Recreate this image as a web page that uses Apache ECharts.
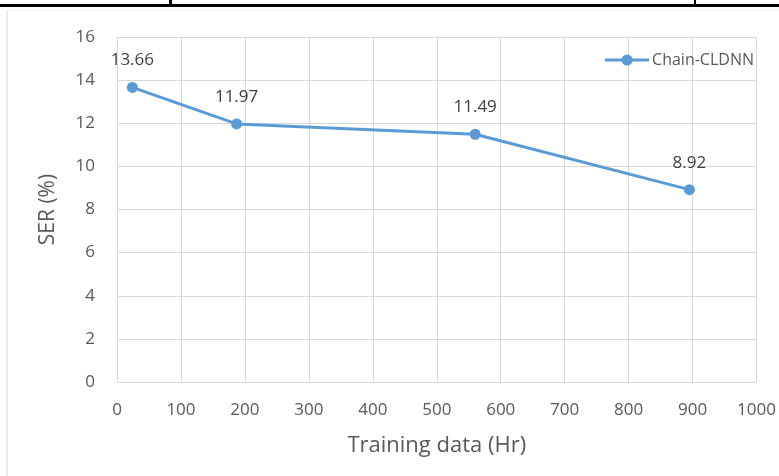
<!DOCTYPE html>
<html><head><meta charset="utf-8">
<script src="https://cdn.jsdelivr.net/npm/echarts@6/dist/echarts.min.js"></script>
<style>html,body{margin:0;padding:0;background:#fff}#c{width:779px;height:476px}</style>
</head><body><div id="c"></div>
<script>
const seriesName = 'Chain-CLDNN';
const trainingHours = [24, 187, 560, 895];
const serValues = [13.66, 11.97, 11.49, 8.92];
const xTitle = 'Training data (Hr)';
const yTitle = 'SER (%)';

const chart = echarts.init(document.getElementById('c'));
const font = '"Open Sans", Lato, sans-serif';
chart.setOption({
  animation: false,
  backgroundColor: '#fff',
  grid: {left: 117, right: 21, top: 37, bottom: 94},
  legend: {
    data: [seriesName], right: 20, top: 47, itemWidth: 44, itemHeight: 14, itemGap: 4,
    lineStyle: {width: 3},
    textStyle: {fontFamily: font, fontSize: 16, color: '#595959', padding: [0, 0, 0, -2]}
  },
  xAxis: {
    type: 'value', min: 0, max: 1000, interval: 100,
    name: xTitle, nameLocation: 'middle', nameGap: 53,
    nameTextStyle: {fontFamily: font, fontSize: 22, color: '#595959'},
    axisLine: {show: true, lineStyle: {color: '#d9d9d9', width: 1}},
    axisTick: {show: false},
    axisLabel: {fontFamily: font, fontSize: 17, color: '#595959', margin: 20,
      formatter: v => String(v)},
    splitLine: {show: true, lineStyle: {color: '#d9d9d9', width: 1}}
  },
  yAxis: {
    type: 'value', min: 0, max: 16, interval: 2,
    name: yTitle, nameLocation: 'middle', nameGap: 58,
    nameTextStyle: {fontFamily: font, fontSize: 21, color: '#595959'},
    axisLine: {show: false}, axisTick: {show: false},
    axisLabel: {fontFamily: font, fontSize: 17, color: '#595959', margin: 22},
    splitLine: {show: true, lineStyle: {color: '#d9d9d9', width: 1}}
  },
  series: [{
    name: seriesName, type: 'line',
    data: trainingHours.map((h, i) => [h, serValues[i]]),
    symbol: 'circle', symbolSize: 11,
    lineStyle: {color: '#5B9BD5', width: 3},
    itemStyle: {color: '#5B9BD5'},
    label: {show: true, position: 'top', distance: 13, fontFamily: font, fontSize: 17, color: '#404040',
      formatter: p => p.value[1].toFixed(2)}
  }],
  graphic: [
    {type: 'rect', shape: {x: 0, y: 4, width: 779, height: 3}, style: {fill: '#000'}},
    {type: 'rect', shape: {x: 169, y: 0, width: 3, height: 6}, style: {fill: '#000'}},
    {type: 'rect', shape: {x: 694, y: 0, width: 2, height: 6}, style: {fill: '#000'}},
    {type: 'line', shape: {x1: 7, y1: 10, x2: 7, y2: 476}, style: {stroke: '#d9d9d9', lineWidth: 1}},
    {type: 'line', shape: {x1: 7, y1: 10, x2: 779, y2: 10}, style: {stroke: '#eeeeee', lineWidth: 1}}
  ]
});
</script></body></html>
